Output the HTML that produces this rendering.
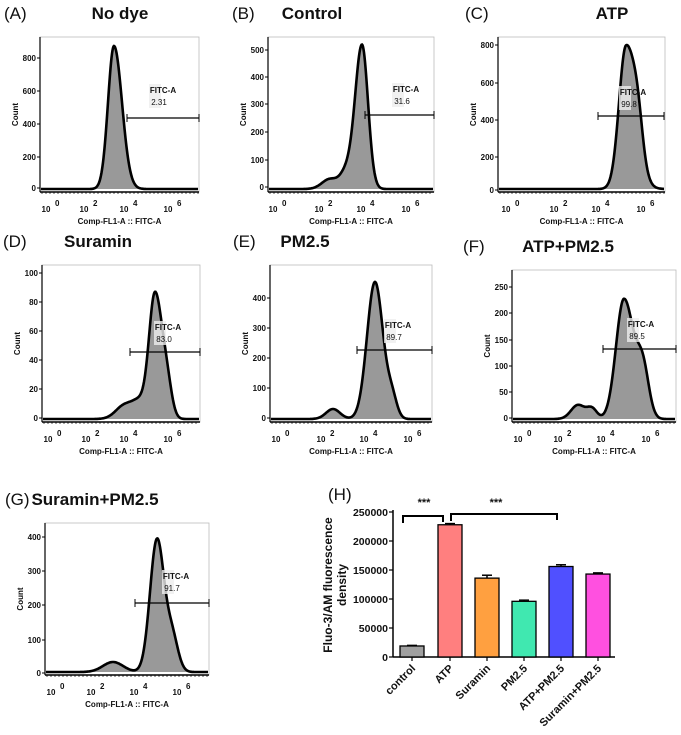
<!DOCTYPE html>
<html><head><meta charset="utf-8"><style>
body{margin:0;background:#fff}
svg{display:block}
text{font-family:"Liberation Sans",sans-serif;font-weight:bold;fill:#111}
</style></head><body>
<svg id="s" width="681" height="735" viewBox="0 0 681 735" xmlns="http://www.w3.org/2000/svg"></svg>
<script>
const S=document.getElementById('s');let h='';
function T(x,y,t,sz,anc,extra){h+=`<text x="${x}" y="${y}" font-size="${sz}" text-anchor="${anc||'start'}" ${extra||''}>${t}</text>`;}
function panel(p){
 const {L,R,Tp,B,lab,lx,title,tx,ticks,peaks,gate,val,labx,laby}=p;
 T(lx,Tp-18,lab,17,'start','style="font-weight:normal"');
 T(tx,Tp-18,title,17,'middle','style="font-weight:bold"');
 h+=`<rect x="${L}" y="${Tp}" width="${R-L}" height="${B-Tp}" fill="none" stroke="#bbb" stroke-width="0.8"/>`;
 let pts=[];const base=B-3;
 for(let x=L+1;x<=R-1;x+=0.5){let v=0;for(const k of peaks){v+=k[2]*Math.exp(-0.5*((x-k[0])/(x<k[0]?k[1]:(k[3]||k[1])))**2);}pts.push([x,base-v]);}
 let d='M'+pts.map(q=>q[0].toFixed(1)+','+q[1].toFixed(1)).join('L');
 h+=`<path d="${d}L${R-1},${base}L${L+1},${base}Z" fill="#999"/><path d="${d}" fill="none" stroke="#000" stroke-width="2.6"/>`;
 h+=`<line x1="${L}" y1="${B}" x2="${R}" y2="${B}" stroke="#000" stroke-width="1.5"/><line x1="${L}" y1="${Tp}" x2="${L}" y2="${B}" stroke="#000" stroke-width="1.2"/>`;
 for(const t of ticks.y){T(L-4,t[0]+3,t[1],8,'end');h+=`<line x1="${L-3}" y1="${t[0]}" x2="${L}" y2="${t[0]}" stroke="#000"/>`;}
 for(let x=L+2;x<R;x+=4)h+=`<line x1="${x}" y1="${B}" x2="${x}" y2="${B+2}" stroke="#000" stroke-width="0.7"/>`;
 const ex=['0','2','4','6'];ticks.x.forEach((x,i)=>{T(x-4,B+20,'10',8,'middle');T(x+5,B+14,ex[i],8,'start');});
 T((L+R)/2,B+32,'Comp-FL1-A :: FITC-A',8,'middle');
 T(L-22,(Tp+B)/2,'Count',8,'middle',`transform="rotate(-90 ${L-22} ${(Tp+B)/2})"`);
 h+=`<rect x="${labx-6}" y="${laby-9}" width="12" height="24" fill="#eee" opacity="0.8"/>`;
 T(labx+8,laby,'FITC-A',8,'middle');T(labx+4,laby+12,val,8,'middle','style="font-weight:normal"');
 h+=`<line x1="${gate[0]}" y1="${gate[2]}" x2="${gate[1]}" y2="${gate[2]}" stroke="#000" stroke-width="1.3"/><line x1="${gate[0]}" y1="${gate[2]-4}" x2="${gate[0]}" y2="${gate[2]+4}" stroke="#000"/><line x1="${gate[1]}" y1="${gate[2]-4}" x2="${gate[1]}" y2="${gate[2]+4}" stroke="#000"/>`;
}
panel({L:40,R:199,Tp:37,B:192,lab:'(A)',lx:4,title:'No dye',tx:120,ticks:{y:[[58,'800'],[91,'600'],[124,'400'],[157,'200'],[188,'0']],x:[50,88,128,172]},peaks:[[114,6,143,8]],gate:[127,199,118],val:'2.31',labx:155,laby:93});
panel({L:268,R:434,Tp:37,B:192,lab:'(B)',lx:232,title:'Control',tx:312,ticks:{y:[[50,'500'],[77,'400'],[104,'300'],[132,'200'],[160,'100'],[187,'0']],x:[277,323,365,410]},peaks:[[362,7,144,6],[330,8,10],[346,6,15]],gate:[365,434,115],val:'31.6',labx:398,laby:92});
panel({L:498,R:665,Tp:37,B:192,lab:'(C)',lx:465,title:'ATP',tx:612,ticks:{y:[[45,'800'],[83,'600'],[120,'400'],[157,'200'],[190,'0']],x:[510,558,600,645]},peaks:[[626,7,142,10],[638,5,30]],gate:[598,664,116],val:'99.8',labx:625,laby:95});
panel({L:42,R:200,Tp:265,B:422,lab:'(D)',lx:3,title:'Suramin',tx:98,ticks:{y:[[273,'100'],[302,'80'],[331,'60'],[360,'40'],[389,'20'],[418,'0']],x:[52,90,128,172]},peaks:[[155,6,124,7],[125,9,14],[140,7,15],[167,5,30]],gate:[130,200,352],val:'83.0',labx:160,laby:330});
panel({L:270,R:432,Tp:265,B:422,lab:'(E)',lx:233,title:'PM2.5',tx:305,ticks:{y:[[298,'400'],[328,'300'],[358,'200'],[388,'100'],[418,'0']],x:[280,325,368,412]},peaks:[[375,8,137,8],[333,7,10],[392,5,20]],gate:[357,432,350],val:'89.7',labx:390,laby:328});
panel({L:512,R:676,Tp:270,B:422,lab:'(F)',lx:463,title:'ATP+PM2.5',tx:568,ticks:{y:[[287,'250'],[313,'200'],[340,'150'],[366,'100'],[392,'50'],[418,'0']],x:[522,562,605,650]},peaks:[[624,8,120,10],[643,6,45],[578,7,14],[592,5,10]],gate:[603,676,349],val:'89.5',labx:633,laby:327});
panel({L:45,R:209,Tp:523,B:675,lab:'(G)',lx:5,title:'Suramin+PM2.5',tx:95,ticks:{y:[[537,'400'],[571,'300'],[605,'200'],[640,'100'],[673,'0']],x:[55,95,138,181]},peaks:[[157,7,132,7],[113,10,10],[172,6,35]],gate:[135,209,603],val:'91.7',labx:168,laby:579});
const y0=657,y1=512,sc=(y0-y1)/250000,Y=v=>y0-v*sc;
T(328,500,'(H)',17,'start','style="font-weight:normal"');
h+=`<line x1="393" y1="${y1-2}" x2="393" y2="${y0}" stroke="#000" stroke-width="1.5"/><line x1="393" y1="${y0}" x2="615" y2="${y0}" stroke="#000" stroke-width="1.5"/>`;
for(let v=0;v<=250000;v+=50000){T(388,Y(v)+4,String(v),10.5,'end');h+=`<line x1="389" y1="${Y(v)}" x2="393" y2="${Y(v)}" stroke="#000" stroke-width="1.2"/>`;}
T(332,585,'Fluo-3/AM fluorescence',12,'middle','transform="rotate(-90 332 585)"');
T(346,585,'density',12,'middle','transform="rotate(-90 346 585)"');
const bars=[['control',412,19000,1000,'#a0a0a0'],['ATP',450,228000,2000,'#ff7f7f'],['Suramin',487,136000,5000,'#ffa040'],['PM2.5',524,96000,2000,'#40e8b0'],['ATP+PM2.5',561,156000,3000,'#5050ff'],['Suramin+PM2.5',598,143000,2000,'#ff50e0']];
for(const b of bars){h+=`<line x1="${b[1]}" y1="${Y(b[2]+b[3])}" x2="${b[1]}" y2="${Y(b[2])}" stroke="#000" stroke-width="1.5"/><line x1="${b[1]-5}" y1="${Y(b[2]+b[3])}" x2="${b[1]+5}" y2="${Y(b[2]+b[3])}" stroke="#000" stroke-width="1.5"/>`;
h+=`<rect x="${b[1]-12}" y="${Y(b[2])}" width="24" height="${y0-Y(b[2])}" fill="${b[4]}" stroke="#000" stroke-width="1.3"/>`;
h+=`<line x1="${b[1]}" y1="${y0}" x2="${b[1]}" y2="${y0+4}" stroke="#000" stroke-width="1.2"/>`;
T(b[1]+4,y0+12,b[0],11,'end',`transform="rotate(-45 ${b[1]+4} ${y0+12})"`);}
h+=`<path d="M403,523V516H443V522" fill="none" stroke="#000" stroke-width="2"/><path d="M451,521V514H557V520" fill="none" stroke="#000" stroke-width="2"/>`;
T(424,506,'***',11,'middle');T(496,506,'***',11,'middle');
S.innerHTML=h;
</script>
</body></html>
